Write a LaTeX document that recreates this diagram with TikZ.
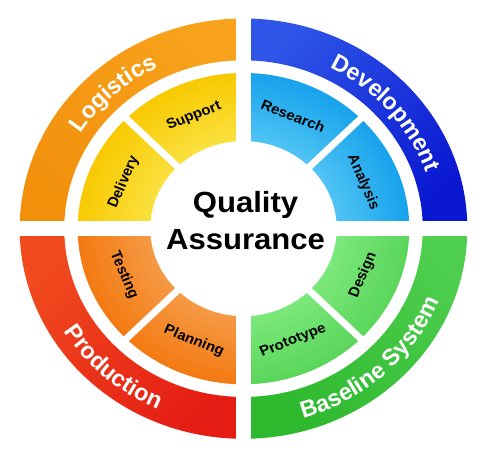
\documentclass[tikz,border=0pt]{standalone}
\usepackage{fontspec}
\setmainfont{Liberation Sans}
\usepackage{tikz}
\usetikzlibrary{decorations.text}

\definecolor{logout}{HTML}{F2900C}
\definecolor{logoutlt}{HTML}{F8A21C}
\definecolor{login}{HTML}{F7C900}
\definecolor{loginlt}{HTML}{FFFF90}
\definecolor{devout}{HTML}{0A18D0}
\definecolor{devoutlt}{HTML}{2E55E8}
\definecolor{devin}{HTML}{16A2EC}
\definecolor{devinlt}{HTML}{9AEFFF}
\definecolor{proout}{HTML}{E51C14}
\definecolor{prooutlt}{HTML}{F04A1E}
\definecolor{proin}{HTML}{F47A12}
\definecolor{proinlt}{HTML}{F6C386}
\definecolor{basout}{HTML}{2DB82D}
\definecolor{basoutlt}{HTML}{4ECE4E}
\definecolor{basin}{HTML}{5AD65A}
\definecolor{basinlt}{HTML}{A7FFA7}

\begin{document}
\begin{tikzpicture}[x=1pt, y=1pt, xscale=1.065,
    inlabel/.style={font=\bfseries\fontsize{14.5}{14.5}\selectfont, transform shape},
    outlabel/.style={decorate, decoration={text along path, text align=center,
      text={|\color{white}\bfseries\fontsize{24}{24}\selectfont|#1}}}]
  \path[fill=white] (-229.1, -232.0) rectangle (228.2, 229.0);

  % Outer ring.
  \foreach \a/\lt/\dk/\sa in {90/logoutlt/logout/-45, 0/devoutlt/devout/45,
                              180/prooutlt/proout/45, 270/basoutlt/basout/-45} {
    \shade[top color=\lt, bottom color=\dk, shading angle=\sa]
      (\a:216) arc[start angle=\a, delta angle=90, radius=216]
      -- ({\a+90}:173) arc[start angle={\a+90}, delta angle=-90, radius=173] -- cycle;
  }

  % Inner ring.
  \foreach \a/\lt/\dk in {90/loginlt/login, 0/devinlt/devin,
                          180/proinlt/proin, 270/basinlt/basin} {
    \begin{scope}
      \clip (\a:160) arc[start angle=\a, delta angle=90, radius=160]
        -- ({\a+90}:90) arc[start angle={\a+90}, delta angle=-90, radius=90] -- cycle;
      \shade[inner color=\lt, outer color=\dk] (0, 0) circle (160);
    \end{scope}
  }

  % Gaps.
  \fill[white] (-7.5, -235.0) rectangle (7.5, 235.0);
  \fill[white] (-235.0, -8.0) rectangle (235.0, 8.0);
  \foreach \a in {45, 135, 225, 315} {
    \draw[white, line width=7pt] (\a:85) -- (\a:165);
  }

  % Centre text.
  \node[font=\bfseries\fontsize{30}{38}\selectfont, align=center, transform shape]
    (qa) at (2, 8) {Quality\\Assurance};

  % Inner labels.
  \foreach \a/\t in {112.5/Support, 157.5/Delivery, 67.5/Research, 22.5/Analysis} {
    \node[inlabel, rotate=\a-90] (lbl-\t) at (\a:125) {\t};
  }
  \foreach \a/\t in {202.5/Testing, 247.5/Planning, 292.5/Prototype, 337.5/Design} {
    \node[inlabel, rotate=\a+90] (lbl-\t) at (\a:125) {\t};
  }

  % Outer labels.
  \path[outlabel=Logistics] (178:185) arc[start angle=178, end angle=88, radius=185];
  \path[outlabel=Development] (85:185) arc[start angle=85, end angle=-5, radius=185];
  \path[outlabel=Production] (183:203) arc[start angle=183, end angle=273, radius=203];
  \path[outlabel={Baseline System}] (268:203) arc[start angle=268, end angle=358, radius=203];
\end{tikzpicture}
\end{document}
